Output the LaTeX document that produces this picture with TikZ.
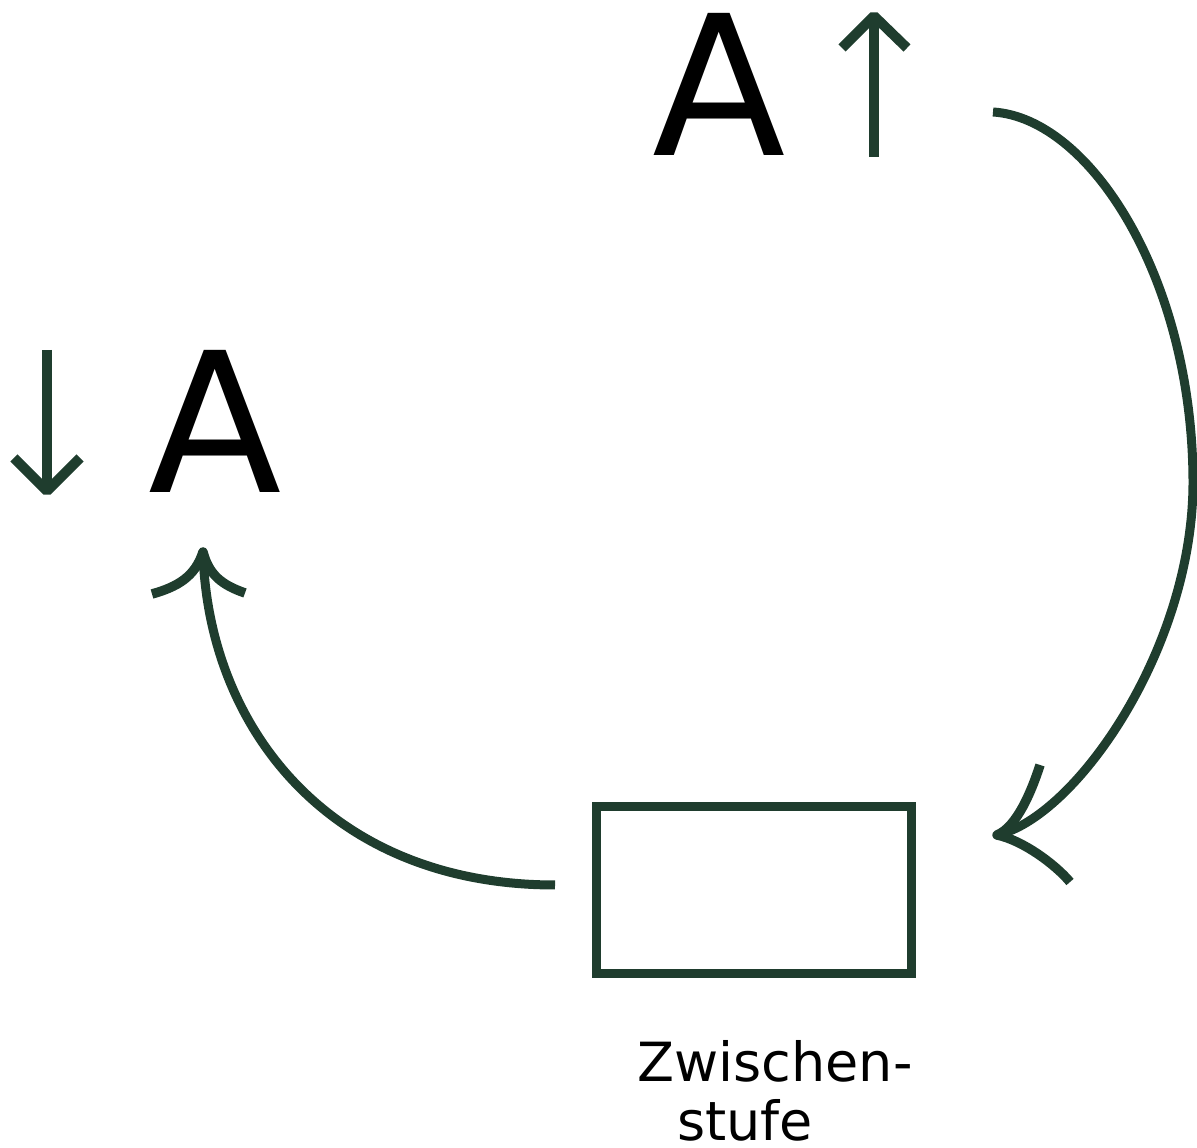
\documentclass[tikz,border=0pt]{standalone}
\usepackage{fontspec}
\setmainfont{DejaVu Sans}
\definecolor{darkgreen}{RGB}{31,61,46}
\begin{document}
\begin{tikzpicture}[x=1pt,y=1pt,
  bigletter/.style={anchor=base,inner sep=0pt,font=\fontsize{195}{195}\selectfont,text=black},
  caption/.style={anchor=base,inner sep=0pt,font=\fontsize{54}{60}\selectfont,text=black},
  stage/.style={draw=darkgreen,line width=9pt,minimum width=315pt,minimum height=167pt,inner sep=0pt},
  flow/.style={draw=darkgreen,line width=9pt},
  barb/.style={draw=darkgreen,line width=9.5pt,line join=round},
  trend/.style={draw=darkgreen,line width=10pt,line join=bevel}
]
\useasboundingbox (0,0) rectangle (1197,1148);

% letters with their trend arrows
\node[bigletter] (Atop) at (719.5,992) {A};
\node[bigletter] (Aleft) at (215,655) {A};

\coordinate (upbot) at (874,991);
\coordinate (uptop) at (874,1132);
\coordinate (upl) at (842,1100);
\coordinate (upr) at (907,1100);
\draw[trend] (upbot) -- (uptop);
\draw[trend] (upl) -- (uptop) -- (upr);

\coordinate (dntop) at (47,798);
\coordinate (dnbot) at (47,657);
\coordinate (dnl) at (14,690);
\coordinate (dnr) at (80,690);
\draw[trend] (dntop) -- (dnbot);
\draw[trend] (dnl) -- (dnbot) -- (dnr);

% intermediate stage
\node[stage] (box) at (754,257.5) {};
\node[caption] (cap1) at (775,66) {Zwischen-};
\node[caption] (cap2) at (745,7) {stufe};

% connector from the raised A down to the stage
\coordinate (rs) at (993,1036);
\coordinate (rmid) at (1193,668);
\coordinate (re) at (997,313);
\coordinate (rbu) at (1040,383);
\coordinate (rbl) at (1070,266);
\draw[flow]
  (rs) .. controls (1090,1030) and (1192,870) .. (rmid)
       .. controls (1194,500) and (1075,330) .. (re);
\draw[barb] (rbu) .. controls (1032,358) and (1017,321) .. (re)
                  .. controls (1022,308) and (1055,284) .. (rbl);

% connector from the stage back to the lowered A
\coordinate (ls) at (555,263);
\coordinate (le) at (203,596);
\coordinate (lbl) at (152,554);
\coordinate (lbr) at (245,555);
\draw[flow] (ls) .. controls (330,263) and (208,420) .. (le);
\draw[barb] (lbl) .. controls (177,561) and (195,571) .. (le)
                  .. controls (209,573) and (222,563) .. (lbr);
\end{tikzpicture}
\end{document}
